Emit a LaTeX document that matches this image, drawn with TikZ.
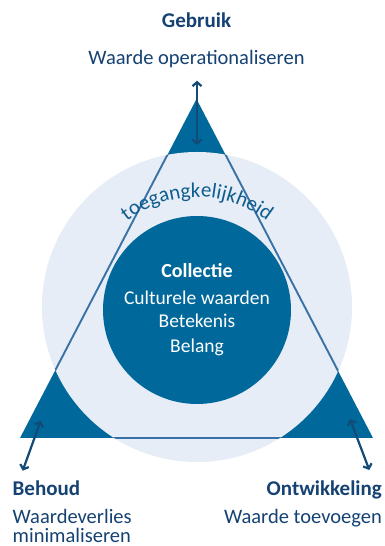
\documentclass[tikz,border=0pt]{standalone}
\usepackage{fontspec}
\setmainfont{Carlito}
\usetikzlibrary{arrows.meta,decorations.text}
\definecolor{textc}{HTML}{154273}
\definecolor{darkc}{HTML}{01689B}
\definecolor{lightc}{HTML}{E6EDF6}
\definecolor{linec}{HTML}{3872A6}
\definecolor{arrowc}{HTML}{124A78}
\definecolor{arcc}{HTML}{0F5D8F}
\newcommand{\arcfmt}{\color{arcc}\fontsize{21}{24}\selectfont}
\begin{document}
\begin{tikzpicture}[x=1pt,y=1pt,
  lbl/.style={inner sep=0pt, text=textc, font=\fontsize{20.5}{24}\selectfont},
  ttl/.style={inner sep=0pt, text=textc, font=\bfseries\fontsize{21}{24}\selectfont},
  ctr/.style={inner sep=0pt, text=white, font=\fontsize{19.5}{22}\selectfont},
  ctrb/.style={inner sep=0pt, text=white, font=\bfseries\fontsize{20}{22}\selectfont},
  dbl/.style={draw=arrowc, line width=2.2pt,
    {Straight Barb[length=4pt,width=9pt]}-{Straight Barb[length=4pt,width=9pt]}}]
\fill[white] (0,0) rectangle (384,546);
\useasboundingbox (0,0) rectangle (384,546);
\coordinate (A) at (196.5,447);
\coordinate (B) at (20,108);
\coordinate (C) at (373,108);
\coordinate (O) at (197,239);
\coordinate (M) at (197,236);
\fill[darkc] (A) -- (B) -- (C) -- cycle;
\fill[lightc] (O) circle (155pt);
\begin{scope}
  \clip (O) circle (155pt);
  \draw[linec, line width=1.9pt] (A) -- (B) -- (C) -- cycle;
\end{scope}
\node[circle, fill=darkc, minimum size=188pt, inner sep=0pt] (coll) at (M) {};
\path[decorate, decoration={text along path, text align=center,
  text={|\arcfmt|toegangkelijkheid}}] (117.1,315.9) arc (135:45:113pt);
\node[ctrb, anchor=base] (c1) at (197,268) {Collectie};
\node[ctr, anchor=base] (c2) at (197,241) {Culturele waarden};
\node[ctr, anchor=base] (c3) at (197,218) {Betekenis};
\node[ctr, anchor=base] (c4) at (197,193) {Belang};
\node[ttl, anchor=base] (g1) at (196.5,518) {Gebruik};
\node[lbl, anchor=base] (g2) at (196.5,481) {Waarde operationaliseren};
\node[ttl, anchor=base west] (b1) at (12.5,50) {Behoud};
\node[lbl, anchor=base west] (b2) at (12.5,23) {Waardeverlies};
\node[lbl, anchor=base west] (b3) at (12.5,3) {minimaliseren};
\node[ttl, anchor=base east] (o1) at (382,50) {Ontwikkeling};
\node[lbl, anchor=base east] (o2) at (382,23) {Waarde toevoegen};
\coordinate (t1) at (197,465.3);
\coordinate (t2) at (197,401);
\coordinate (l1) at (40.7,125.3);
\coordinate (l2) at (22.7,75.3);
\coordinate (r1) at (350,127);
\coordinate (r2) at (369.3,76);
\draw[dbl] (t1) -- (t2);
\draw[dbl] (l1) -- (l2);
\draw[dbl] (r1) -- (r2);
\end{tikzpicture}
\end{document}
